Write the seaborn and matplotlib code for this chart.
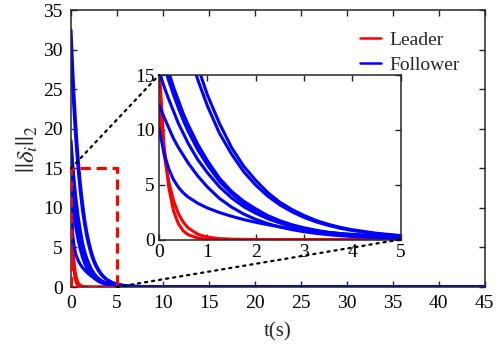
import pandas as pd
import matplotlib.pyplot as plt
import seaborn as sns
from matplotlib.patches import Rectangle, ConnectionPatch

# sample times (s)
t = [0, 0.1, 0.2, 0.3, 0.4, 0.5, 0.6, 0.8, 1.0, 1.25, 1.5, 1.75, 2.0, 2.25,
     2.5, 2.75, 3.0, 3.25, 3.5, 3.75, 4.0, 4.5, 5.0, 6.0, 8.0, 10.0, 45.0]

# ||delta_i||_2
leader_a = [16.0, 8.8, 4.8, 2.6, 1.45, 0.8, 0.44, 0.13, 0.04, 0.01, 0, 0, 0, 0,
            0, 0, 0, 0, 0, 0, 0, 0, 0, 0, 0, 0, 0]
leader_b = [11.8, 7.9, 5.3, 3.55, 2.38, 1.6, 1.07, 0.48, 0.22, 0.08, 0.03, 0.01, 0, 0,
            0, 0, 0, 0, 0, 0, 0, 0, 0, 0, 0, 0, 0]

follower_1 = [30.0, 27.4, 25.1, 22.9, 20.9, 19.1, 17.5, 14.6, 12.2, 9.7, 7.8, 6.2, 4.96, 3.96,
              3.16, 2.53, 2.02, 1.61, 1.29, 1.03, 0.82, 0.52, 0.33, 0.14, 0.02, 0, 0]
follower_2 = [32.5, 29.7, 27.1, 24.8, 22.7, 20.7, 18.9, 15.8, 13.2, 10.6, 8.4, 6.7, 5.4, 4.29,
              3.4, 2.74, 2.2, 1.74, 1.39, 1.11, 0.89, 0.57, 0.36, 0.15, 0.02, 0, 0]
follower_3 = [17.5, 15.9, 14.5, 13.2, 12.0, 10.9, 9.9, 8.2, 6.8, 5.3, 4.2, 3.3, 2.6, 2.06,
              1.63, 1.28, 1.01, 0.8, 0.63, 0.5, 0.39, 0.24, 0.15, 0.06, 0.01, 0, 0]
follower_4 = [18.5, 16.8, 15.3, 13.9, 12.7, 11.5, 10.5, 8.7, 7.2, 5.6, 4.4, 3.5, 2.8, 2.18,
              1.72, 1.35, 1.07, 0.85, 0.67, 0.53, 0.41, 0.26, 0.16, 0.06, 0.01, 0, 0]
follower_5 = [15.4, 14.0, 12.8, 11.7, 10.6, 9.7, 8.8, 7.3, 6.1, 4.8, 3.8, 3.0, 2.4, 1.9,
              1.51, 1.19, 0.95, 0.75, 0.59, 0.47, 0.37, 0.23, 0.15, 0.06, 0.01, 0, 0]
follower_6 = [12.3, 11.2, 10.2, 9.2, 8.4, 7.7, 7.0, 5.8, 4.8, 3.75, 2.96, 2.33, 1.84, 1.45,
              1.14, 0.9, 0.71, 0.56, 0.44, 0.35, 0.28, 0.17, 0.11, 0.04, 0.01, 0, 0]
follower_7 = [10.2, 7.93, 6.46, 5.46, 4.77, 4.26, 3.88, 3.31, 2.88, 2.46, 2.12, 1.82, 1.57, 1.35,
              1.16, 1.0, 0.86, 0.74, 0.64, 0.55, 0.47, 0.35, 0.26, 0.14, 0.04, 0.01, 0]

leaders = [leader_a, leader_b]
followers = [follower_1, follower_2, follower_3, follower_4,
             follower_5, follower_6, follower_7]

rows = []
for k, vals in enumerate(leaders):
    for ti, v in zip(t, vals):
        rows.append(('Leader', 'L%d' % k, ti, v))
for k, vals in enumerate(followers):
    for ti, v in zip(t, vals):
        rows.append(('Follower', 'F%d' % k, ti, v))
df = pd.DataFrame(rows, columns=['role', 'curve', 't', 'value'])

sns.set_style('ticks')
plt.rcParams['font.family'] = ['Liberation Serif', 'DejaVu Serif']
plt.rcParams['mathtext.fontset'] = 'stix'
plt.rcParams['font.size'] = 14
plt.rcParams['axes.edgecolor'] = '#262626'
plt.rcParams['axes.linewidth'] = 1.1

palette = {'Leader': 'red', 'Follower': 'blue'}
fig = plt.figure(figsize=(4.98, 3.5), dpi=100)
ax = fig.add_axes([0.1426, 0.18, 0.8303, 0.7914])

sns.lineplot(data=df, x='t', y='value', hue='role', units='curve', estimator=None,
             hue_order=['Leader', 'Follower'], palette=palette, lw=2.2, sort=False, ax=ax)
ax.set_xlim(0, 45)
ax.set_ylim(0, 35)
ax.set_xticks(range(0, 46, 5))
ax.set_yticks(range(0, 36, 5))
ax.tick_params(direction='in', top=True, right=True, length=4, width=1, colors='#262626',
               labelcolor='black', labelsize=14, pad=6)
ax.set_xlabel('t(s)', fontsize=15, labelpad=7)
ax.set_ylabel(r'$||\delta_i||_2$', fontsize=18, labelpad=2)

leg = ax.legend(loc='upper right', bbox_to_anchor=(0.982, 0.985), frameon=False,
                handlelength=1.1, handletextpad=0.4, labelspacing=0.38, fontsize=14)
for h in leg.get_lines():
    h.set_linewidth(1.8)

# zoom box
ax.add_patch(Rectangle((0, 0), 5, 15, fill=False, ec='red', lw=2.3,
                       ls=(0, (3.2, 1.8)), zorder=5))

# inset
axins = fig.add_axes([0.3193, 0.3157, 0.485, 0.47])
sns.lineplot(data=df, x='t', y='value', hue='role', units='curve', estimator=None,
             hue_order=['Leader', 'Follower'], palette=palette, lw=2.2, sort=False,
             legend=False, ax=axins)
axins.set_xlim(0, 5)
axins.set_ylim(0, 15)
axins.set_xticks(range(0, 6))
axins.set_yticks([0, 5, 10, 15])
axins.set_xlabel('')
axins.set_ylabel('')
axins.tick_params(direction='in', top=True, right=True, length=4, width=1, colors='#262626',
                  labelcolor='black', labelsize=14, pad=3)

for (xa, ya), (xb, yb) in [((0, 15), (0, 1)), ((5, 0), (1, 0))]:
    con = ConnectionPatch(xyA=(xa, ya), coordsA=ax.transData,
                          xyB=(xb, yb), coordsB=axins.transAxes,
                          color='black', lw=1.6, ls=(0, (1, 2.2)), zorder=6)
    fig.add_artist(con)

fig.savefig('out.png', dpi=100)
